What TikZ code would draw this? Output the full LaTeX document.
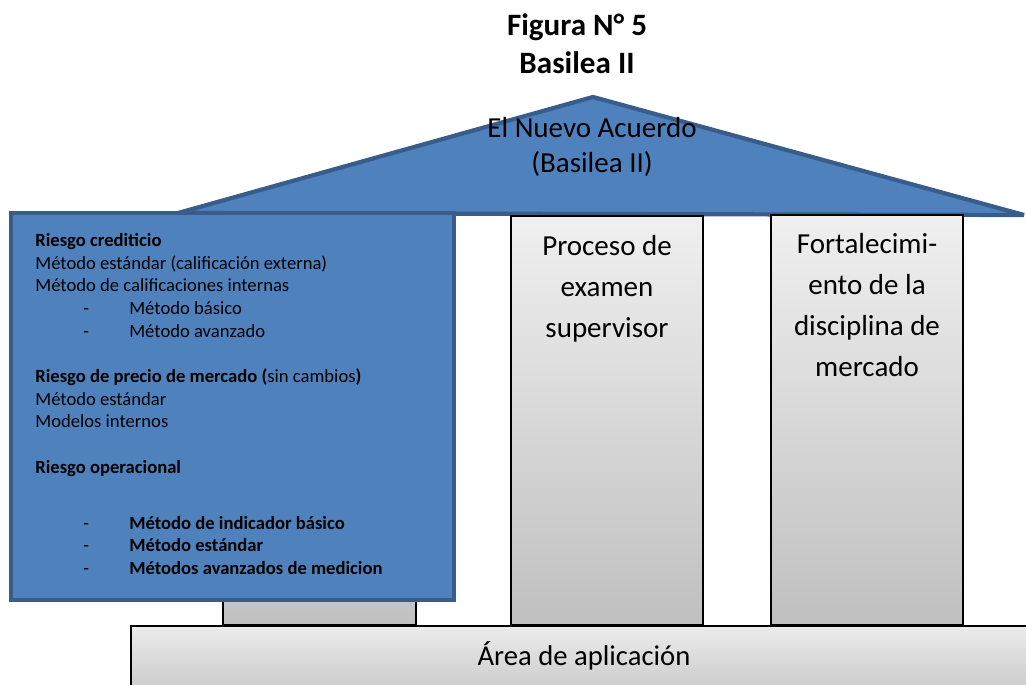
\documentclass[tikz,border=0pt]{standalone}
\usepackage{fontspec}
\setmainfont{Carlito}
\definecolor{azultecho}{HTML}{4F81BD}
\definecolor{bordetecho}{HTML}{385D8A}
\newcommand{\guion}{\makebox[1.88cm][l]{\hspace*{0.96cm}-}}

\begin{document}
\begin{tikzpicture}[x=0.02cm, y=-0.02cm,
    columna/.style={draw=black, line width=0.9pt, top color=gray!12, bottom color=gray!50},
    azul/.style={fill=azultecho, draw=bordetecho, line width=2.4pt},
    textocol/.style={anchor=north, align=center, inner sep=0pt, font=\fontsize{16.5}{23.3}\selectfont}]
\clip (0,0) rectangle (1026,685);

\node[anchor=north, align=center, inner sep=0pt, font=\bfseries\fontsize{17.7}{21.6}\selectfont] (titulo) at (577,13) {Figura N° 5\\Basilea II};

\draw[azul, line join=bevel] (178,213) -- (593,97) -- (1024,215) -- cycle;
\node[anchor=north, align=center, inner sep=0pt, font=\fontsize{16.5}{19.9}\selectfont] (acuerdo) at (592,117) {El Nuevo Acuerdo\\(Basilea II)};

\draw[columna] (223,400) rectangle (416,625);
\draw[columna] (511,216) rectangle (703,625);
\draw[columna] (771,215) rectangle (963,625);
\draw[columna, top color=gray!15, bottom color=gray!45] (131,626) rectangle (1040,700);

\node[textocol] (examen) at (607,235) {Proceso de\\examen\\supervisor};
\node[textocol] (disciplina) at (867,233) {Fortalecimi-\\ento de la\\disciplina de\\mercado};
\node[anchor=base, inner sep=0pt, font=\fontsize{16.3}{19}\selectfont] (area) at (584,665) {Área de aplicación};

\draw[azul] (11,213) rectangle (454,600);
\node[anchor=north west, align=left, inner sep=0pt, font=\fontsize{10.6}{12.9}\selectfont] (riesgos) at (35,233) {%
\textbf{Riesgo crediticio}\\
Método estándar (calificación externa)\\
Método de calificaciones internas\\
\guion Método básico\\
\guion Método avanzado\\[12.9pt]
\textbf{Riesgo de precio de mercado (}sin cambios\textbf{)}\\
Método estándar\\
Modelos internos\\[12.9pt]
\textbf{Riesgo operacional}\\[19pt]
\guion\textbf{Método de indicador básico}\\
\guion\textbf{Método estándar}\\
\guion\textbf{Métodos avanzados de medicion}};
\end{tikzpicture}
\end{document}
